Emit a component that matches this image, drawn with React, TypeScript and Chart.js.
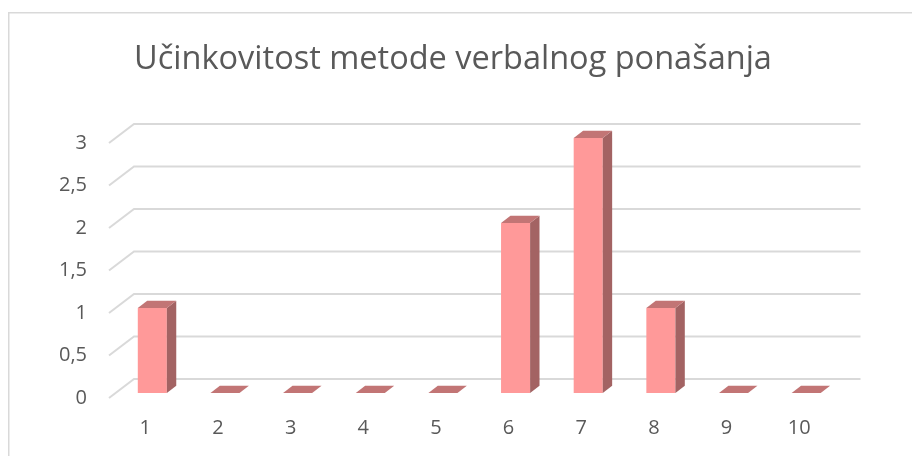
import React, { useEffect, useRef } from 'react';
import { Chart, registerables } from 'chart.js';

Chart.register(...registerables);

const chartTitle = 'Učinkovitost metode verbalnog ponašanja';
const categories = ['1', '2', '3', '4', '5', '6', '7', '8', '9', '10'];
const values = [1, 0, 0, 0, 0, 2, 3, 1, 0, 0];
const yTicks = [0, 0.5, 1, 1.5, 2, 2.5, 3];
const yTickLabels = ['0', '0,5', '1', '1,5', '2', '2,5', '3'];

const FRONT = '#FF9999';
const SIDE = '#A36363';
const TOP = '#C27575';
const GRID = '#D9D9D9';
const TEXT = '#595959';

// depth geometry
const BAR_DX = 9.4;
const BAR_DY = -7.3;
const WALL_DX = 18;
const WALL_DY = -14;
const FLOOR_DX = 25;
const FLOOR_DY = -19;

const threeD = {
  id: 'threeD',
  beforeDraw(chart: any) {
    const ctx = chart.ctx;
    ctx.save();
    ctx.fillStyle = '#ffffff';
    ctx.fillRect(0, 0, chart.width, chart.height);
    ctx.strokeStyle = GRID;
    ctx.lineWidth = 1.5;
    ctx.strokeRect(8.75, 12.75, chart.width + 40, chart.height + 40);
    ctx.fillStyle = TEXT;
    ctx.font = '32.5px "Open Sans"';
    ctx.textAlign = 'center';
    ctx.textBaseline = 'alphabetic';
    ctx.fillText(chartTitle, 453, 69);
    ctx.restore();
  },
  beforeDatasetsDraw(chart: any) {
    const ctx = chart.ctx;
    const y = chart.scales.y;
    const area = chart.chartArea;
    const backLeft = area.left + WALL_DX;
    const backRight = area.right + WALL_DX;
    ctx.save();
    ctx.strokeStyle = GRID;
    ctx.lineWidth = 2;
    yTicks.forEach((v) => {
      const yb = y.getPixelForValue(v) + WALL_DY;
      ctx.beginPath();
      ctx.moveTo(backLeft - FLOOR_DX, yb - FLOOR_DY);
      ctx.lineTo(backLeft, yb);
      ctx.lineTo(backRight, yb);
      ctx.stroke();
    });
    ctx.restore();
  },
  afterDatasetsDraw(chart: any) {
    const ctx = chart.ctx;
    const meta = chart.getDatasetMeta(0);
    const y = chart.scales.y;
    const x = chart.scales.x;
    ctx.save();
    meta.data.forEach((bar: any) => {
      const p = bar.getProps(['x', 'y', 'base', 'width'], true);
      const l = p.x - p.width / 2;
      const r = p.x + p.width / 2;
      const top = Math.min(p.y, p.base);
      const base = Math.max(p.y, p.base);
      // side
      ctx.fillStyle = SIDE;
      ctx.beginPath();
      ctx.moveTo(r, top);
      ctx.lineTo(r + BAR_DX, top + BAR_DY);
      ctx.lineTo(r + BAR_DX, base + BAR_DY);
      ctx.lineTo(r, base);
      ctx.closePath();
      ctx.fill();
      // top
      ctx.fillStyle = TOP;
      ctx.beginPath();
      ctx.moveTo(l, top);
      ctx.lineTo(l + BAR_DX, top + BAR_DY);
      ctx.lineTo(r + BAR_DX, top + BAR_DY);
      ctx.lineTo(r, top);
      ctx.closePath();
      ctx.fill();
    });
    // tick labels
    ctx.fillStyle = TEXT;
    ctx.font = '20px "Open Sans"';
    ctx.textBaseline = 'middle';
    ctx.textAlign = 'right';
    yTicks.forEach((v, i) => {
      ctx.fillText(yTickLabels[i], 87, y.getPixelForValue(v) + 5);
    });
    ctx.textAlign = 'center';
    categories.forEach((c, i) => {
      ctx.fillText(c, x.getPixelForValue(i) - 7, 428);
    });
    ctx.restore();
  },
};

export default function App() {
  const ref = useRef<HTMLCanvasElement>(null);
  useEffect(() => {
    if (!ref.current) return;
    const chart = new Chart(ref.current, {
      type: 'bar',
      data: {
        labels: categories,
        datasets: [
          {
            data: values,
            backgroundColor: FRONT,
            borderWidth: 0,
            barPercentage: 0.4,
            categoryPercentage: 1,
          },
        ],
      },
      options: {
        animation: false,
        responsive: false,
        devicePixelRatio: 1,
        layout: { padding: { left: 116, right: 69.5, top: 138, bottom: 63 } },
        plugins: { legend: { display: false }, title: { display: false }, tooltip: { enabled: false } },
        scales: {
          x: { display: false, offset: true },
          y: { display: false, min: 0, max: 3 },
        },
      },
      plugins: [threeD],
    });
    return () => chart.destroy();
  }, []);
  return (
    <div style={{ position: 'absolute', left: 0, top: 0, width: 912, height: 456 }}>
      <canvas ref={ref} width={912} height={456} style={{ display: 'block' }} />
    </div>
  );
}
